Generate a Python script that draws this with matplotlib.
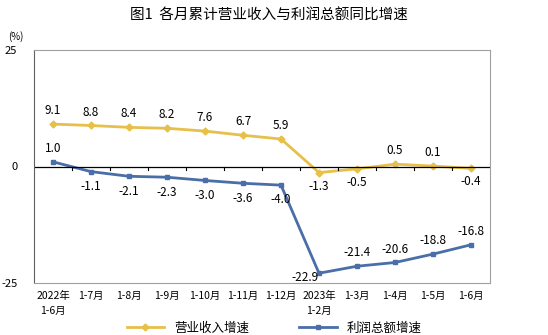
import matplotlib.pyplot as plt

plt.rcParams['font.family'] = ['Noto Sans CJK SC', 'DejaVu Sans']

# 数据
months = ["2022年\n1-6月", "1-7月", "1-8月", "1-9月", "1-10月", "1-11月", "1-12月",
          "2023年\n1-2月", "1-3月", "1-4月", "1-5月", "1-6月"]
revenue = [9.1, 8.8, 8.4, 8.2, 7.6, 6.7, 5.9, -1.3, -0.5, 0.5, 0.1, -0.4]
profit = [1.0, -1.1, -2.1, -2.3, -3.0, -3.6, -4.0, -22.9, -21.4, -20.6, -18.8, -16.8]

rev_color = "#E6C04A"
pro_color = "#4A6EA8"

fig = plt.figure(figsize=(5.48, 3.35), dpi=100)
ax = fig.add_axes([34 / 548, 1 - 283 / 335, 456 / 548, 233 / 335])

x = list(range(len(months)))
ax.plot(x, revenue, color=rev_color, lw=2, marker="D", ms=3.5, label="营业收入增速")
ax.plot(x, profit, color=pro_color, lw=2, marker="s", ms=3.5, label="利润总额增速")

ax.set_xlim(-0.5, len(months) - 0.5)
ax.set_ylim(-25, 25)
ax.set_yticks([-25, 0, 25])
ax.set_yticklabels(["-25", "0", "25"], fontsize=8)
ax.tick_params(axis="y", length=0, pad=12)
ax.set_xticks(x)
ax.set_xticklabels(months, fontsize=7.5, linespacing=1.6)
ax.tick_params(axis="x", length=0, pad=6)
for t in ax.get_xticklabels():
    t.set_verticalalignment("top")

for s in ax.spines.values():
    s.set_color("#a0a0a0")
    s.set_linewidth(0.8)
ax.spines["left"].set_color("#606060")

# 零线及其刻度
ax.axhline(0, color="black", lw=0.9)
for b in range(1, len(months)):
    ax.plot([b - 0.5, b - 0.5], [0, -0.8], color="black", lw=0.8)

fs = 8.5
for i, v in enumerate(revenue):
    if i in (7, 8, 11):
        ax.annotate(f"{v:.1f}", (i, v), xytext=(0, -5), textcoords="offset points",
                    ha="center", va="top", fontsize=fs)
    else:
        ax.annotate(f"{v:.1f}", (i, v), xytext=(0, 5), textcoords="offset points",
                    ha="center", va="bottom", fontsize=fs)

for i, v in enumerate(profit):
    if i == 0 or i >= 8:
        ax.annotate(f"{v:.1f}", (i, v), xytext=(0, 5), textcoords="offset points",
                    ha="center", va="bottom", fontsize=fs)
    elif i == 7:
        ax.annotate(f"{v:.1f}", (i, v), xytext=(-10, -3), textcoords="offset points",
                    ha="center", va="center", fontsize=fs)
    else:
        ax.annotate(f"{v:.1f}", (i, v), xytext=(0, -6), textcoords="offset points",
                    ha="center", va="top", fontsize=fs)

fig.text(0.49, 1 - 16 / 335, "图1  各月累计营业收入与利润总额同比增速", ha="center", va="center",
         fontsize=10.5)
fig.text(16 / 548, 1 - 37 / 335, "(%)", ha="center", va="center", fontsize=7)

fig.legend(loc="center", bbox_to_anchor=(0.5, 1 - 328 / 335), ncol=2, frameon=False,
           fontsize=9, handlelength=3, columnspacing=4)

fig.savefig("out.png", dpi=100)
